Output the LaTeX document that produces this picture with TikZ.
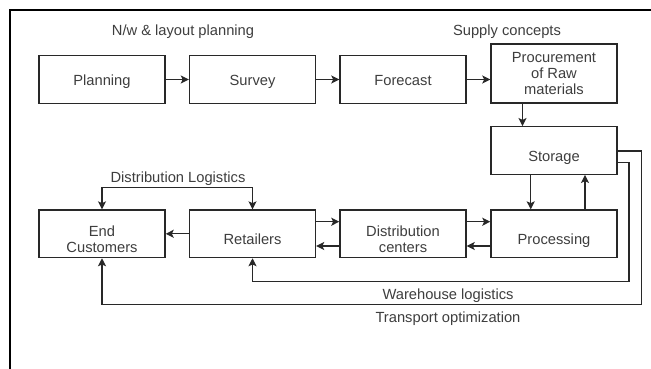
\documentclass[tikz,border=0pt]{standalone}
\usepackage{fontspec}
\setmainfont{Liberation Sans}
\usetikzlibrary{arrows.meta}
\definecolor{txtc}{RGB}{62,62,62}
\definecolor{linec}{RGB}{40,40,40}
\newcommand{\boxtxt}[2]{\raisebox{#1}[0pt][0pt]{\begin{tabular}{@{}c@{}}#2\end{tabular}}}
\begin{document}
\begin{tikzpicture}[x=1pt,y=-1pt,
  every node/.style={font=\fontsize{14.7}{16}\selectfont, text=txtc},
  box/.style={draw=linec, line width=1.4pt, minimum width=126pt, minimum height=47.5pt, inner sep=0pt},
  lbl/.style={anchor=base, inner sep=0pt},
  conn/.style={draw=linec, line width=1.25pt},
  tip/.tip={Stealth[length=8pt,width=8pt,inset=1.8pt]},
  arr/.style={conn, -tip},
  darr/.style={conn, tip-tip}]
\useasboundingbox (0,0) rectangle (651,369);
\fill[white] (0,0) rectangle (651,369);
% frame
\draw[line width=2pt, black] (10,369) -- (10,10) -- (651,10);

% boxes
\node[box] (plan) at (102,79.5) {\boxtxt{-6.25pt}{Planning}};
\node[box] (surv) at (252.5,79.5) {\boxtxt{-6.25pt}{Survey}};
\node[box] (fore) at (403,79.5) {\boxtxt{-6.25pt}{Forecast}};
\node[box, minimum height=59pt] (proc) at (554,73.5) {\boxtxt{-5.75pt}{Procurement\\of Raw\\materials}};
\node[box] (stor) at (554,150.5) {\boxtxt{-11.5pt}{Storage}};
\node[box] (prcs) at (554,233.8) {\boxtxt{-11.5pt}{Processing}};
\node[box] (dist) at (403,233.8) {\boxtxt{-11.5pt}{Distribution\\centers}};
\node[box] (ret) at (252.5,233.8) {\boxtxt{-11.5pt}{Retailers}};
\node[box] (endc) at (102,233.8) {\boxtxt{-11.5pt}{End\\Customers}};

% labels
\node[lbl] (lnw) at (183,36) {N/w \& layout planning};
\node[lbl] (lsc) at (507,36) {Supply concepts};
\node[lbl] (ldl) at (178,182) {Distribution Logistics};
\node[lbl] (lwh) at (448,299) {Warehouse logistics};
\node[lbl] (ltr) at (448,322) {Transport optimization};

% helper coordinates
\coordinate (xPS) at (522.5,0);
\coordinate (xSD) at (530.7,0);
\coordinate (xPU) at (585,0);
\coordinate (yR) at (0,221.7);
\coordinate (yL) at (0,246);
\coordinate (yDL) at (0,187.7);
\coordinate (w1) at (629,162.3);
\coordinate (w2) at (629,281.7);
\coordinate (t1) at (641.7,151);
\coordinate (t2) at (641.7,304.7);

% top row
\draw[arr] (plan.east) -- (surv.west);
\draw[arr] (surv.east) -- (fore.west);
\draw[arr] (fore.east) -- (fore.east -| proc.west);
\draw[arr] (proc.south -| xPS) -- (stor.north -| xPS);

% storage / processing
\draw[arr] (stor.south -| xSD) -- (prcs.north -| xSD);
\draw[arr] (prcs.north -| xPU) -- (stor.south -| xPU);

% bottom row
\draw[arr] (ret.east |- yR) -- (dist.west |- yR);
\draw[arr] (dist.west |- yL) -- (ret.east |- yL);
\draw[arr] (dist.east |- yR) -- (prcs.west |- yR);
\draw[arr] (prcs.west |- yL) -- (dist.east |- yL);
\draw[arr] (ret.west) -- (endc.east);

% distribution logistics
\draw[darr] (endc.north) -- (endc.north |- yDL) -- (ret.north |- yDL) -- (ret.north);

% warehouse logistics
\draw[arr] (stor.east |- w1) -- (w1) -- (w2) -| (ret.south);
% transport optimization
\draw[arr] (stor.east |- t1) -- (t1) -- (t2) -| (endc.south);
\end{tikzpicture}
\end{document}
